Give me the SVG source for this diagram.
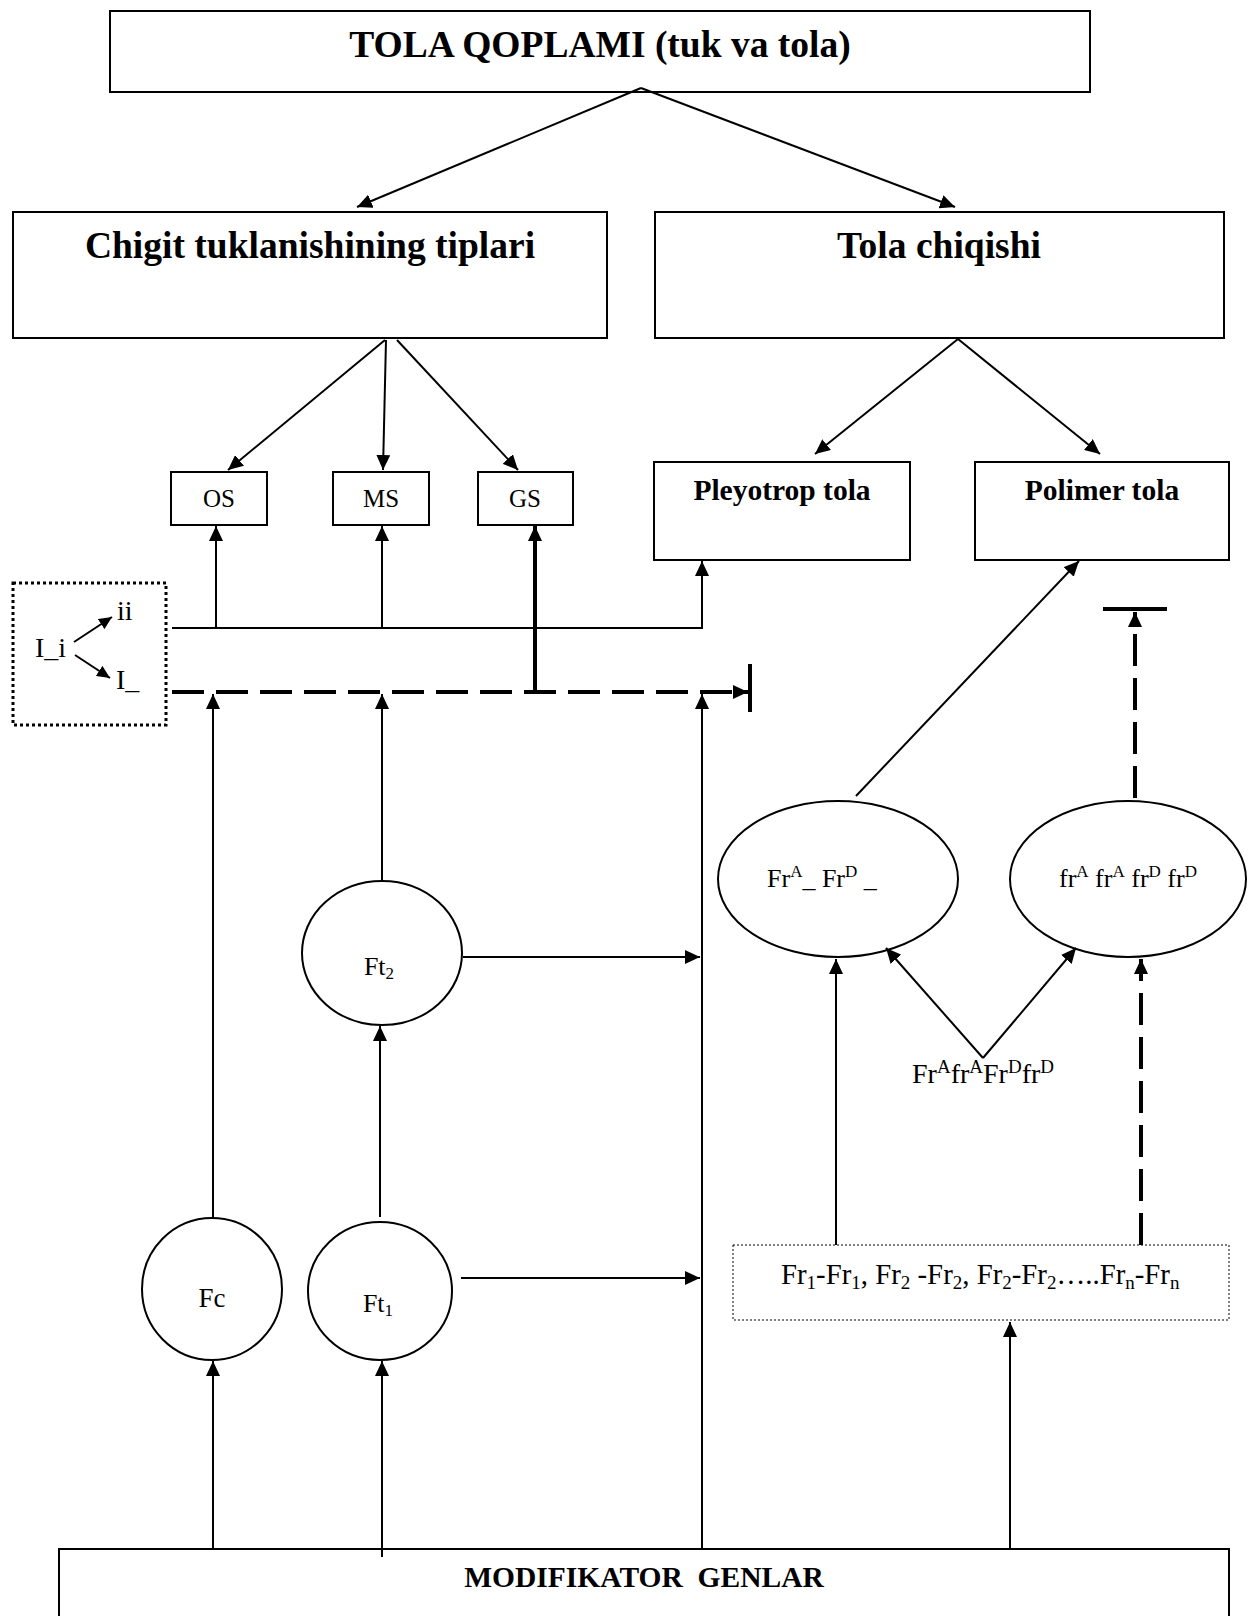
<svg xmlns="http://www.w3.org/2000/svg" width="1248" height="1616" viewBox="0 0 1248 1616">
<style>
.box{fill:#fff;stroke:#000;stroke-width:2}
.el{fill:#fff;stroke:#000;stroke-width:2}
.ln{fill:none;stroke:#000;stroke-width:2}
.thick{fill:none;stroke:#000;stroke-width:4}
.dash{fill:none;stroke:#000;stroke-width:4;stroke-dasharray:32,12}
.tb{font-family:"Liberation Serif","Times New Roman",serif;font-weight:bold;fill:#000}
.t{font-family:"Liberation Serif","Times New Roman",serif;fill:#000}
.s{font-size:17px}
.s2{font-size:19px}
</style>
<defs>
<marker id="ah" markerUnits="userSpaceOnUse" markerWidth="16" markerHeight="14" refX="15" refY="7" orient="auto">
<path d="M0,0 L15,7 L0,14 z" fill="#000"/>
</marker>
<marker id="ahs" markerUnits="userSpaceOnUse" markerWidth="14" markerHeight="12" refX="13" refY="6" orient="auto">
<path d="M0,0 L13,6 L0,12 z" fill="#000"/>
</marker>
</defs>

<g id="n-top"><rect class="box" x="110" y="11" width="980" height="81"/>
<text class="tb" x="600" y="57" font-size="37.5" text-anchor="middle">TOLA QOPLAMI (tuk va tola)</text></g>

<g id="n-chigit"><rect class="box" x="13" y="212" width="594" height="126"/>
<text class="tb" x="310" y="258" font-size="37.5" text-anchor="middle">Chigit tuklanishining tiplari</text></g>

<g id="n-tola"><rect class="box" x="655" y="212" width="569" height="126"/>
<text class="tb" x="939" y="258" font-size="37.5" text-anchor="middle">Tola chiqishi</text></g>

<g id="n-os"><rect class="box" x="171" y="472" width="96" height="53"/>
<text class="t" x="219" y="507" font-size="25" text-anchor="middle">OS</text></g>
<g id="n-ms"><rect class="box" x="333" y="472" width="96" height="53"/>
<text class="t" x="381" y="507" font-size="25" text-anchor="middle">MS</text></g>
<g id="n-gs"><rect class="box" x="478" y="472" width="95" height="53"/>
<text class="t" x="525" y="507" font-size="25" text-anchor="middle">GS</text></g>

<g id="n-pleyotrop"><rect class="box" x="654" y="462" width="256" height="98"/>
<text class="tb" x="782" y="500" font-size="29.5" text-anchor="middle">Pleyotrop tola</text></g>
<g id="n-polimer"><rect class="box" x="975" y="462" width="254" height="98"/>
<text class="tb" x="1102" y="500" font-size="29.5" text-anchor="middle">Polimer tola</text></g>

<g id="n-ii"><rect x="13" y="583" width="153" height="142" fill="none" stroke="#000" stroke-width="3" stroke-dasharray="3,3"/>
<text class="t" x="35" y="657" font-size="28">I_i</text>
<text class="t" x="117" y="620" font-size="28">ii</text>
<text class="t" x="116" y="689" font-size="28">I_</text></g>

<g id="n-ft2"><ellipse class="el" cx="382" cy="953" rx="80" ry="72"/>
<text class="t" x="379" y="975" font-size="26" text-anchor="middle">Ft<tspan class="s" dy="4">2</tspan></text></g>
<g id="n-fc"><ellipse class="el" cx="212" cy="1289" rx="70" ry="71"/>
<text class="t" x="212" y="1307" font-size="27" text-anchor="middle">Fc</text></g>
<g id="n-ft1"><ellipse class="el" cx="380" cy="1291" rx="72" ry="69"/>
<text class="t" x="378" y="1312" font-size="26" text-anchor="middle">Ft<tspan class="s" dy="4">1</tspan></text></g>

<g id="n-frA"><ellipse class="el" cx="838" cy="879" rx="120" ry="78"/>
<text class="t" x="767" y="887" font-size="26">Fr<tspan class="s" dy="-10">A</tspan><tspan dy="10">_ Fr</tspan><tspan class="s" dy="-10">D</tspan><tspan dy="10"> _</tspan></text></g>
<g id="n-fra"><ellipse class="el" cx="1128" cy="879" rx="118" ry="78"/>
<text class="t" x="1059" y="887" font-size="26">fr<tspan class="s" dy="-10">A</tspan><tspan dy="10"> fr</tspan><tspan class="s" dy="-10">A</tspan><tspan dy="10"> fr</tspan><tspan class="s" dy="-10">D</tspan><tspan dy="10"> fr</tspan><tspan class="s" dy="-10">D</tspan></text></g>

<g id="n-het"><text class="t" x="912" y="1083" font-size="28">Fr<tspan class="s2" dy="-10">A</tspan><tspan dy="10">fr</tspan><tspan class="s2" dy="-10">A</tspan><tspan dy="10">Fr</tspan><tspan class="s2" dy="-10">D</tspan><tspan dy="10">fr</tspan><tspan class="s2" dy="-10">D</tspan></text></g>

<g id="n-frlist"><rect x="733" y="1245" width="496" height="75" fill="#fff" stroke="#000" stroke-width="1" stroke-dasharray="2,2"/>
<text class="t" x="781" y="1284" font-size="28.8">Fr<tspan class="s2" dy="5">1</tspan><tspan dy="-5">-Fr</tspan><tspan class="s2" dy="5">1</tspan><tspan dy="-5">, Fr</tspan><tspan class="s2" dy="5">2</tspan><tspan dy="-5"> -Fr</tspan><tspan class="s2" dy="5">2</tspan><tspan dy="-5">, Fr</tspan><tspan class="s2" dy="5">2</tspan><tspan dy="-5">-Fr</tspan><tspan class="s2" dy="5">2</tspan><tspan dy="-5">…..Fr</tspan><tspan class="s2" dy="5">n</tspan><tspan dy="-5">-Fr</tspan><tspan class="s2" dy="5">n</tspan></text></g>

<g id="n-mod"><rect class="box" x="59" y="1549" width="1170" height="90"/>
<text class="tb" x="644" y="1587" font-size="29.5" text-anchor="middle" xml:space="preserve">MODIFIKATOR  GENLAR</text></g>

<g id="connectors">
<path class="ln" d="M641,88 L357,207" marker-end="url(#ah)"/>
<path class="ln" d="M641,88 L955,207" marker-end="url(#ah)"/>
<path class="ln" d="M385,340 L228,470" marker-end="url(#ah)"/>
<path class="ln" d="M386,340 L383,470" marker-end="url(#ah)"/>
<path class="ln" d="M397,340 L518,470" marker-end="url(#ah)"/>
<path class="ln" d="M958,339 L815,454" marker-end="url(#ah)"/>
<path class="ln" d="M958,339 L1100,454" marker-end="url(#ah)"/>
<path class="ln" d="M74,642 L112,617" marker-end="url(#ahs)"/>
<path class="ln" d="M75,655 L110,678" marker-end="url(#ahs)"/>
<path class="ln" d="M172,628 H702 V561" marker-end="url(#ah)"/>
<path class="ln" d="M216,628 V526" marker-end="url(#ah)"/>
<path class="ln" d="M382,628 V526" marker-end="url(#ah)"/>
<path class="thick" d="M535,692 V526" marker-end="url(#ah)"/>
<path class="dash" d="M172,692 H748" marker-end="url(#ah)"/>
<path class="thick" d="M750,664 V712"/>
<path class="ln" d="M213,1218 V694" marker-end="url(#ah)"/>
<path class="ln" d="M382,881 V694" marker-end="url(#ah)"/>
<path class="ln" d="M702,1548 V694" marker-end="url(#ah)"/>
<path class="ln" d="M463,957 H700" marker-end="url(#ah)"/>
<path class="ln" d="M461,1278 H700" marker-end="url(#ah)"/>
<path class="ln" d="M380,1217 V1026" marker-end="url(#ah)"/>
<path class="ln" d="M213,1548 V1361" marker-end="url(#ah)"/>
<path class="ln" d="M382,1557 V1361" marker-end="url(#ah)"/>
<path class="ln" d="M1010,1548 V1322" marker-end="url(#ah)"/>
<path class="ln" d="M983,1058 L886,948" marker-end="url(#ah)"/>
<path class="ln" d="M983,1058 L1076,948" marker-end="url(#ah)"/>
<path class="ln" d="M836,1245 V959" marker-end="url(#ah)"/>
<path class="dash" d="M1141,1245 V959" marker-end="url(#ah)"/>
<path class="ln" d="M856,796 L1079,561" marker-end="url(#ah)"/>
<path class="dash" d="M1135,798 V612" marker-end="url(#ah)"/>
<path class="thick" d="M1103,609 H1167"/>
</g>
</svg>
